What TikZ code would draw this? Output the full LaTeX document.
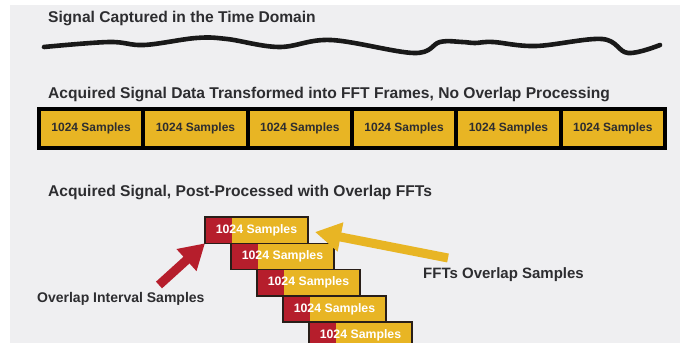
\documentclass[tikz,border=0pt]{standalone}
\usepackage{fontspec}
\setmainfont{Liberation Sans}
\usetikzlibrary{arrows.meta}
\definecolor{bg}{RGB}{239,239,241}
\definecolor{fftyellow}{RGB}{232,181,36}
\definecolor{fftred}{RGB}{182,30,44}
\definecolor{txt}{RGB}{45,45,48}
\definecolor{edge}{RGB}{40,30,25}
\begin{document}
\begin{tikzpicture}[x=1pt,y=-1pt,
  title/.style={anchor=base west, inner sep=0pt, text=txt, font=\fontsize{15.6}{18}\selectfont\bfseries},
  label/.style={anchor=base west, inner sep=0pt, text=txt, font=\fontsize{#1}{17}\selectfont\bfseries},
  cell/.style={draw=black, line width=4pt, fill=fftyellow, minimum width=104.33pt, minimum height=39pt,
    inner sep=0pt, outer sep=0pt, text=txt, font=\fontsize{12}{14}\selectfont\bfseries},
  blk/.style={draw=edge, line width=1.5pt, fill=fftyellow, minimum width=103pt, minimum height=26.3pt,
    inner sep=0pt, outer sep=0pt, text=white, font=\fontsize{12.3}{14}\selectfont\bfseries,
    path picture={\fill[fftred] (path picture bounding box.north west) rectangle ([xshift=27pt]path picture bounding box.south west);}},
  redarrow/.style={draw=fftred, line width=9pt, -{Triangle[width=28pt,length=25pt]}},
  yelarrow/.style={draw=fftyellow, line width=9pt, -{Triangle[width=28pt,length=26pt]}},
  wave/.style={line width=4.6pt, line cap=round, line join=round, black!90}
]
\useasboundingbox (0,0) rectangle (680,345);
\clip (0,0) rectangle (680,345);
\fill[white] (0,0) rectangle (680,345);
\fill[bg] (10,5) rectangle (680,343);

% section 1
\node[title] (t1) at (48,23) {Signal Captured in the Time Domain};
\draw[wave] plot[smooth, tension=0.6] coordinates {(44,47) (109,42) (144,45) (196,38) (227,39) (279,47) (331,40) (414,53) (440,42) (462,42) (475,43) (493,42) (536,46) (602,39) (628,53) (660,45)};

% section 2
\node[title] (t2) at (48,98) {Acquired Signal Data Transformed into FFT Frames, No Overlap Processing};
\foreach \i in {1,...,6} {
  \node[cell] (c\i) at ({39+104.33*(\i-0.5)},128.5) {1024 Samples};
}

% section 3
\node[title] (t3) at (48,196) {Acquired Signal, Post-Processed with Overlap FFTs};
\foreach \k in {0,...,4} {
  \node[blk] (b\k) at ({256.5+26*\k},{230.15+26.3*\k}) {1024 Samples};
}

\coordinate (ra) at (159,285);
\draw[redarrow] (ra) -- (b0.south west);
\coordinate (ya) at (448,258);
\coordinate (yt) at (315,232);
\draw[yelarrow] (ya) -- (yt);

\node[label=14] (l1) at (37,302) {Overlap Interval Samples};
\node[label=15] (l2) at (423,278) {FFTs Overlap Samples};

\fill[white] (0,343) rectangle (680,345);
\end{tikzpicture}
\end{document}
